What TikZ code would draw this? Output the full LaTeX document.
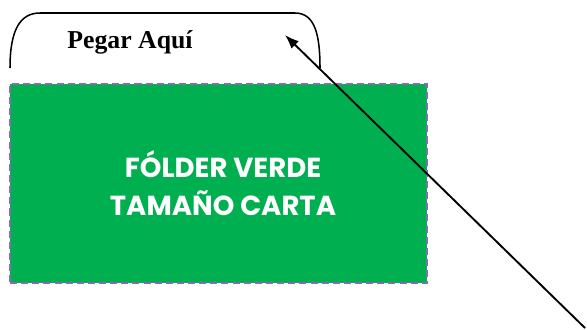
\documentclass[tikz,border=0pt]{standalone}
\usepackage{fontspec}
\setmainfont{Liberation Serif}
\newfontfamily\gothic{Poppins}
\usetikzlibrary{arrows.meta}
\definecolor{foldergreen}{HTML}{00B050}
\definecolor{cutline}{HTML}{8A6BB0}

\begin{document}
\begin{tikzpicture}[x=0.03cm, y=-0.03cm, align=center]
\useasboundingbox (0,0) rectangle (587,329);

\path (218.5,183.5) node[rectangle, fill=foldergreen, draw=cutline, line width=1.8pt,
        dash pattern=on 6pt off 3.5pt, minimum width=12.51cm, minimum height=5.97cm] (folder) {}
      (223,183) node[text=white, font=\gothic\bfseries\fontsize{23.5}{32}\selectfont] (name) {FÓLDER VERDE\\TAMAÑO CARTA}
      (130,42) node[font=\bfseries\fontsize{22}{26}\selectfont] (paste) {Pegar Aquí}
      (285,35) coordinate (head)
      (585,328) coordinate (tail);

\draw[line width=1.3pt] (10,68) .. controls (10,30) and (20,13) .. (40,13) -- (295,13)
      .. controls (315,13) and (320,35) .. (320,68);
\draw[line width=1.6pt, -{Latex[length=12pt, width=9pt]}] (tail) to (head);

\end{tikzpicture}
\end{document}
